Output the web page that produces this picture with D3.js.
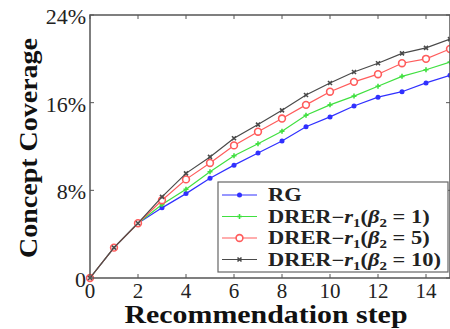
<!DOCTYPE html>
<html>
<head>
<meta charset="utf-8">
<script src="https://cdn.jsdelivr.net/npm/d3@7"></script>
<style>
  body { margin: 0; background: #fff; }
  svg { display: block; }
</style>
</head>
<body>
<div id="chart"></div>
<script>
// recommendation steps 0..15
const steps = d3.range(0, 16);

// concept coverage in percent
const rgValues = [0, 2.77, 5.0, 6.4, 7.7, 9.1, 10.3, 11.4, 12.5, 13.8, 14.7, 15.7, 16.5, 17.0, 17.8, 18.5];
const beta1Values = [0, 2.77, 5.0, 6.7, 8.1, 9.7, 11.15, 12.25, 13.4, 14.85, 15.8, 16.6, 17.5, 18.4, 19.0, 19.7];
const beta5Values = [0, 2.77, 5.0, 7.1, 9.0, 10.5, 12.1, 13.35, 14.55, 15.8, 17.0, 17.9, 18.6, 19.6, 20.0, 20.9];
const beta10Values = [0, 2.77, 5.0, 7.4, 9.55, 11.05, 12.75, 14.0, 15.3, 16.7, 17.8, 18.8, 19.6, 20.5, 21.0, 21.8];

const xTicks = [0, 2, 4, 6, 8, 10, 12, 14];
const yTicks = [0, 8, 16, 24];
const yTickLabels = ["0", "8%", "16%", "24%"];

const seriesNames = ["RG", "b1", "b5", "b10"];
const betaLabels = [null, "1", "5", "10"];

const width = 450;
const height = 329;
const margin = { top: 15, right: 0, bottom: 51, left: 90 };

const colors = ["#3030ff", "#40e040", "#ff5c5c", "#4a4a4a"];
const markers = ["dot", "plus", "ring", "cross"];

const series = [rgValues, beta1Values, beta5Values, beta10Values].map((vals, i) => ({
  name: seriesNames[i],
  beta: betaLabels[i],
  color: colors[i],
  marker: markers[i],
  points: steps.map((s, j) => ({ x: s, y: vals[j] }))
}));

const x = d3.scaleLinear().domain([0, 15]).range([margin.left, width - margin.right]);
const y = d3.scaleLinear().domain([0, 24]).range([height - margin.bottom, margin.top]);

const svg = d3.select("#chart")
  .append("svg")
  .attr("width", width)
  .attr("height", height)
  .style("font-family", "'Liberation Serif', 'Times New Roman', serif");

const axisColor = "#555";

// tick marks on all four sides (inward)
const g = svg.append("g");
xTicks.forEach((t) => {
  g.append("line").attr("x1", x(t)).attr("x2", x(t))
    .attr("y1", y(0)).attr("y2", y(0) - 4)
    .attr("stroke", axisColor);
  g.append("line").attr("x1", x(t)).attr("x2", x(t))
    .attr("y1", y(24)).attr("y2", y(24) + 4)
    .attr("stroke", axisColor);
});
yTicks.forEach((t) => {
  g.append("line").attr("x1", x(0)).attr("x2", x(0) + 4)
    .attr("y1", y(t)).attr("y2", y(t))
    .attr("stroke", axisColor);
  g.append("line").attr("x1", x(15)).attr("x2", x(15) - 4)
    .attr("y1", y(t)).attr("y2", y(t))
    .attr("stroke", axisColor);
});

// tick labels
svg.append("g")
  .selectAll("text")
  .data(xTicks)
  .join("text")
  .attr("x", (d) => x(d))
  .attr("y", 298)
  .attr("text-anchor", "middle")
  .style("font-size", "21px")
  .attr("fill", "#222")
  .text((d) => d);

svg.append("g")
  .selectAll("text")
  .data(yTicks)
  .join("text")
  .attr("x", x(0) - 4)
  .attr("y", (d) => y(d) + 9)
  .attr("text-anchor", "end")
  .style("font-size", "22px")
  .attr("fill", "#222")
  .text((d, i) => yTickLabels[i]);

// lines
const line = d3.line().x((d) => x(d.x)).y((d) => y(d.y));

function drawMarker(sel, kind, color) {
  if (kind === "dot") {
    sel.append("circle").attr("r", 2.5).attr("fill", color);
  } else if (kind === "plus") {
    sel.append("path").attr("d", "M-2.5,0H2.5M0,-2.5V2.5")
      .attr("stroke", color).attr("stroke-width", 1.6);
  } else if (kind === "ring") {
    sel.append("circle").attr("r", 3.4).attr("fill", "#fff")
      .attr("stroke", color).attr("stroke-width", 1.6);
  } else {
    sel.append("path").attr("d", "M-2,-2L2,2M-2,2L2,-2")
      .attr("stroke", color).attr("stroke-width", 1.6);
  }
}

const plot = svg.append("g");
series.forEach((s) => {
  plot.append("path")
    .datum(s.points)
    .attr("fill", "none")
    .attr("stroke", s.color)
    .attr("stroke-width", 1.2)
    .attr("d", line);
  plot.selectAll(null)
    .data(s.points)
    .join("g")
    .attr("transform", (d) => `translate(${x(d.x)},${y(d.y)})`)
    .each(function () { drawMarker(d3.select(this), s.marker, s.color); });
});

// frame
svg.append("rect")
  .attr("x", x(0)).attr("y", y(24))
  .attr("width", x(15) - x(0)).attr("height", y(0) - y(24))
  .attr("fill", "none")
  .attr("stroke", axisColor)
  .attr("stroke-width", 1.5);

// legend
const legend = svg.append("g");
legend.append("rect")
  .attr("x", 218).attr("y", 182)
  .attr("width", 230).attr("height", 90)
  .attr("fill", "#fff")
  .attr("stroke", "#666")
  .attr("stroke-width", 1.2);

const legendTexts = [];
series.forEach((s, i) => {
  const ly = 195 + i * 21.5;
  legend.append("line")
    .attr("x1", 222).attr("x2", 257)
    .attr("y1", ly).attr("y2", ly)
    .attr("stroke", s.color).attr("stroke-width", 1.2);
  drawMarker(legend.append("g").attr("transform", `translate(239.5,${ly})`), s.marker, s.color);

  const t = legend.append("text")
    .attr("data-y", ly + 6)
    .style("font-size", "18px")
    .style("font-weight", "bold")
    .attr("fill", "#222");
  if (!s.beta) {
    t.text(s.name);
  } else {
    t.append("tspan").text("DRER\u2212");
    t.append("tspan").style("font-style", "italic").text("r");
    t.append("tspan").attr("dy", 4).style("font-size", "12px").text("1");
    t.append("tspan").attr("dy", -4).text("(");
    t.append("tspan").style("font-style", "italic").text("\u03B2");
    t.append("tspan").attr("dy", 4).style("font-size", "12px").text("2");
    t.append("tspan").attr("dy", -4).text(" = " + s.beta + ")");
  }
  legendTexts.push(t);
});

// the legend text in the figure is wide: stretch so the longest entry ends near x=441
const longest = d3.max(legendTexts, (t) => t.node().getBBox().width);
const sx = (441 - 268) / longest;
legendTexts.forEach((t) => {
  t.attr("transform", `translate(268,${t.attr("data-y")}) scale(${sx},1)`);
});

// axis titles
svg.append("text")
  .attr("x", 266)
  .attr("y", 323)
  .attr("text-anchor", "middle")
  .attr("textLength", 283)
  .attr("lengthAdjust", "spacingAndGlyphs")
  .style("font-size", "25px")
  .style("font-weight", "bold")
  .attr("fill", "#111")
  .text("Recommendation step");

svg.append("text")
  .attr("transform", "translate(37,148) rotate(-90)")
  .attr("text-anchor", "middle")
  .attr("textLength", 220)
  .attr("lengthAdjust", "spacingAndGlyphs")
  .style("font-size", "26px")
  .style("font-weight", "bold")
  .attr("fill", "#111")
  .text("Concept Coverage");
</script>
</body>
</html>
